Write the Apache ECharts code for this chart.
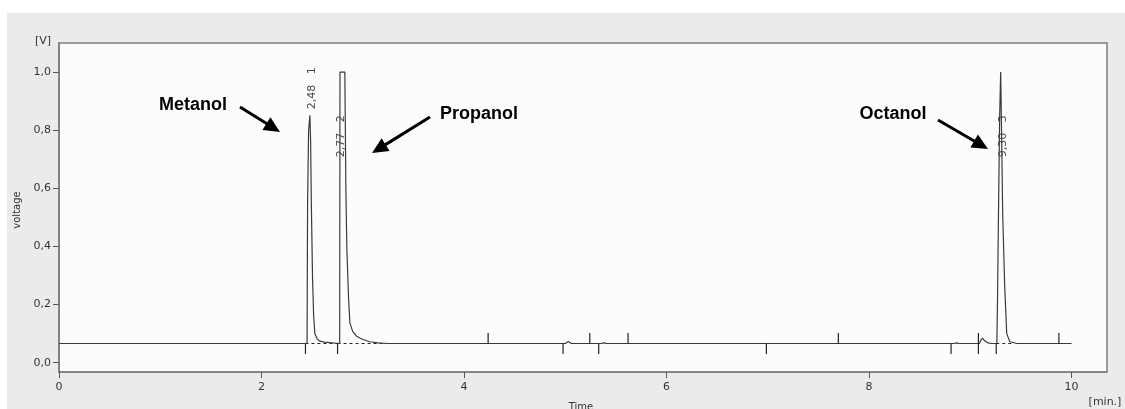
<!DOCTYPE html>
<html>
<head>
<meta charset="utf-8">
<script src="https://cdn.jsdelivr.net/npm/echarts@6/dist/echarts.min.js"></script>
<style>
  html, body { margin: 0; padding: 0; background: #ffffff; }
  #chart { width: 1125px; height: 409px; }
</style>
</head>
<body>
<div id="chart"></div>
<script>
// Detector signal of the GC run (time in minutes, voltage in volts)
const signalTime = [0, 2.43, 2.45, 2.455, 2.465, 2.478, 2.485, 2.492, 2.504, 2.515, 2.527, 2.55, 2.577, 2.62, 2.675, 2.74,
  2.772, 2.775, 2.823, 2.833, 2.843, 2.86, 2.873, 2.9, 2.942, 3.0, 3.07, 3.15, 3.24,
  5.0, 5.015, 5.03, 5.045, 5.06, 5.36, 5.38, 5.4, 8.84, 8.865, 8.89,
  9.09, 9.105, 9.12, 9.14, 9.17, 9.2, 9.262, 9.268, 9.278, 9.29, 9.3, 9.31, 9.32, 9.34, 9.36, 9.39, 9.46, 10.0];
const signalVolt = [0.066, 0.066, 0.066, 0.55, 0.80, 0.851, 0.76, 0.55, 0.29, 0.16, 0.10, 0.082, 0.074, 0.071, 0.069, 0.067,
  0.066, 1.0, 1.0, 0.60, 0.39, 0.22, 0.137, 0.108, 0.09, 0.08, 0.072, 0.068, 0.066,
  0.066, 0.070, 0.073, 0.070, 0.066, 0.066, 0.069, 0.066, 0.066, 0.068, 0.066,
  0.066, 0.078, 0.085, 0.076, 0.069, 0.066, 0.066, 0.20, 0.50, 0.85, 1.0, 0.76, 0.51, 0.26, 0.10, 0.072, 0.066, 0.066];

// Integration baseline level and event marks
const baselineVolt = 0.066;
const marksBelow = [2.434, 2.751, 4.978, 5.33, 6.986, 8.81, 9.08, 9.256];
const marksAbove = [4.238, 5.242, 5.62, 7.697, 9.08, 9.875];
const dashStart = [2.434, 2.751, 9.256];
const dashEnd = [2.751, 3.24, 9.42];

// Identified peaks
const peakTimes = [2.48, 2.77, 9.30];
const peakNumbers = [1, 2, 3];
const peakNames = ['Metanol', 'Propanol', 'Octanol'];

// Axis ticks
const xTicks = [0, 2, 4, 6, 8, 10];
const yTicks = [0, 0.2, 0.4, 0.6, 0.8, 1.0];

const chart = echarts.init(document.getElementById('chart'), null, { renderer: 'canvas' });

const FONT = 'DejaVu Sans, Verdana, sans-serif';
const comma = (v, d) => v.toFixed(d).replace('.', ',');

// where each peak's rotated label starts (time, volt)
const labelAnchor = [[2.503, 0.872], [2.787, 0.707], [9.322, 0.707]];

// arrow with a filled head, given tail and tip in pixels
function arrow(x1, y1, x2, y2) {
  const dx = x2 - x1, dy = y2 - y1;
  const len = Math.sqrt(dx * dx + dy * dy);
  const ux = dx / len, uy = dy / len;
  const hl = 16, hw = 7.5;
  const bx = x2 - ux * hl, by = y2 - uy * hl;
  return {
    type: 'group',
    children: [
      { type: 'line', shape: { x1: x1, y1: y1, x2: bx + ux * 2, y2: by + uy * 2 },
        style: { stroke: '#000', lineWidth: 3 } },
      { type: 'polygon', shape: { points: [[x2, y2], [bx - uy * hw, by + ux * hw], [bx + uy * hw, by - ux * hw]] },
        style: { fill: '#000' } }
    ]
  };
}

const annoStyle = { fill: '#000', font: 'bold 18px "Liberation Sans", Arial, sans-serif', align: 'center', verticalAlign: 'middle' };

chart.setOption({
  animation: false,
  backgroundColor: '#ffffff',
  graphic: [
    { type: 'rect', z: -10, silent: true, shape: { x: 7, y: 13, width: 1118, height: 396 }, style: { fill: '#ebebeb' } },
    { type: 'text', x: 43, y: 41, style: { text: '[V]', font: '11px ' + FONT, fill: '#333', align: 'center', verticalAlign: 'middle' } },
    { type: 'text', x: 17, y: 210, rotation: Math.PI / 2, style: { text: 'voltage', font: '10px ' + FONT, fill: '#333', align: 'center', verticalAlign: 'middle' } },
    { type: 'text', x: 581, y: 407, style: { text: 'Time', font: '10px ' + FONT, fill: '#333', align: 'center', verticalAlign: 'middle' } },
    { type: 'text', x: 1105, y: 402, style: { text: '[min.]', font: '11px ' + FONT, fill: '#333', align: 'center', verticalAlign: 'middle' } },
    { type: 'text', x: 193, y: 105, style: Object.assign({ text: peakNames[0] }, annoStyle) },
    { type: 'text', x: 479, y: 114, style: Object.assign({ text: peakNames[1] }, annoStyle) },
    { type: 'text', x: 893, y: 114, style: Object.assign({ text: peakNames[2] }, annoStyle) },
    arrow(240, 107, 280, 132),
    arrow(430, 117, 372, 153),
    arrow(938, 120, 988, 149)
  ],
  grid: {
    left: 59, right: 18, top: 43, bottom: 37,
    show: true, backgroundColor: '#fcfcfc', borderColor: '#7d7d7d', borderWidth: 1.5
  },
  xAxis: {
    type: 'value', min: 0, max: 10.35,
    axisLine: { show: true, onZero: false, lineStyle: { color: '#7d7d7d', width: 1.5 } },
    axisTick: { show: true, length: 6, customValues: xTicks, lineStyle: { color: '#555' } },
    axisLabel: { customValues: xTicks, color: '#333', fontFamily: FONT, fontSize: 11, margin: 10,
      formatter: v => String(Math.round(v)) },
    splitLine: { show: false }
  },
  yAxis: {
    type: 'value', min: -0.032, max: 1.1,
    axisLine: { show: true, onZero: false, lineStyle: { color: '#7d7d7d', width: 1.5 } },
    axisTick: { show: true, length: 6, customValues: yTicks, lineStyle: { color: '#555' } },
    axisLabel: { customValues: yTicks, color: '#333', fontFamily: FONT, fontSize: 11, margin: 8,
      formatter: v => comma(v, 1) },
    splitLine: { show: false }
  },
  series: [
    {
      name: 'signal', type: 'line', symbol: 'none', z: 3,
      data: signalTime.map((t, i) => [t, signalVolt[i]]),
      lineStyle: { color: '#3a3a3a', width: 1.2 }
    },
    {
      name: 'baseline', type: 'custom', z: 2,
      data: dashStart.map((t, i) => [t, dashEnd[i]]),
      renderItem: (params, api) => {
        const a = api.coord([api.value(0), baselineVolt]);
        const b = api.coord([api.value(1), baselineVolt]);
        return { type: 'line', shape: { x1: a[0], y1: a[1], x2: b[0], y2: b[1] },
          style: { stroke: '#222', lineWidth: 1, lineDash: [3, 3] } };
      }
    },
    {
      name: 'events', type: 'custom', z: 4,
      data: marksBelow.map(t => [t, -1]).concat(marksAbove.map(t => [t, 1])),
      renderItem: (params, api) => {
        const a = api.coord([api.value(0), baselineVolt]);
        const b = api.coord([api.value(0), baselineVolt + api.value(1) * 0.036]);
        return { type: 'line', shape: { x1: a[0], y1: a[1], x2: b[0], y2: b[1] },
          style: { stroke: '#222', lineWidth: 1.2 } };
      }
    },
    {
      name: 'peak labels', type: 'custom', z: 5,
      data: peakTimes.map((t, i) => [labelAnchor[i][0], labelAnchor[i][1], i]),
      renderItem: (params, api) => {
        const i = api.value(2);
        const p = api.coord([api.value(0), api.value(1)]);
        return { type: 'text', x: p[0], y: p[1], rotation: Math.PI / 2,
          style: { text: comma(peakTimes[i], 2) + '   ' + peakNumbers[i], font: '11px ' + FONT,
            fill: '#4a4a4a', align: 'left', verticalAlign: 'middle' } };
      }
    }
  ]
});
</script>
</body>
</html>
